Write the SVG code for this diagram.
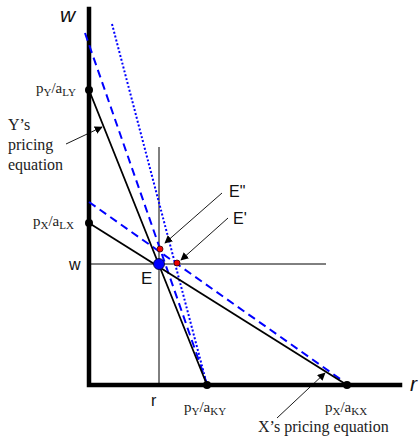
<svg xmlns="http://www.w3.org/2000/svg" width="419" height="442" viewBox="0 0 419 442">
<defs>
<style>
.ser{font-family:"Liberation Serif","Times New Roman",serif;font-size:15px;fill:#222}
.big{font-size:16px}
.sans{font-family:"Liberation Sans",Arial,sans-serif;fill:#111}
.sub{font-size:11px}
.axis{stroke:#000;stroke-width:4.5;fill:none;stroke-linecap:square}
.thin{stroke:#000;stroke-width:1;fill:none}
.solid{stroke:#000;stroke-width:1.8;fill:none}
.dash{stroke:#0000ff;stroke-width:2;stroke-dasharray:8,5;fill:none}
.dot{stroke:#0000ff;stroke-width:2;stroke-dasharray:2,2;fill:none}
.ptr{stroke:#000;stroke-width:0.9;fill:none;marker-end:url(#ah)}
</style>
<marker id="ah" viewBox="0 0 10 10" refX="9" refY="5" markerWidth="8" markerHeight="8" markerUnits="userSpaceOnUse" orient="auto">
<path d="M0,0 L10,5 L0,10 z" fill="#000"/>
</marker>
</defs>
<g id="axes">
<path class="axis" d="M89,9 V385 H400"/>
<text class="sans" x="60" y="22" font-size="21" font-style="italic">w</text>
<text class="sans" x="410" y="391" font-size="21" font-style="italic">r</text>
</g>
<g id="connectors">
<line class="thin" x1="159" y1="147" x2="159" y2="385"/>
<line class="thin" x1="89" y1="264" x2="326" y2="264"/>
<line class="dot" x1="112" y1="24" x2="207" y2="385"/>
<line class="dash" x1="85" y1="33" x2="207" y2="384"/>
<line class="dash" x1="89" y1="202" x2="343" y2="381"/>
<line class="solid" x1="89" y1="90" x2="207" y2="385"/>
<line class="solid" x1="89" y1="223" x2="347" y2="385"/>
<line class="ptr" x1="66" y1="144" x2="102" y2="127"/>
<line class="ptr" x1="222" y1="193" x2="165" y2="243"/>
<line class="ptr" x1="228" y1="218" x2="181" y2="260"/>
<line class="ptr" x1="277" y1="418" x2="325" y2="373"/>
</g>
<g id="pYaLY">
<circle cx="89" cy="90" r="4" fill="#000"/>
<text class="ser" x="36" y="93">p<tspan class="sub" dy="3">Y</tspan><tspan dy="-3">/a</tspan><tspan class="sub" dy="3">LY</tspan></text>
</g>
<g id="pXaLX">
<circle cx="89" cy="223" r="4" fill="#000"/>
<text class="ser" x="33" y="226">p<tspan class="sub" dy="3">X</tspan><tspan dy="-3">/a</tspan><tspan class="sub" dy="3">LX</tspan></text>
</g>
<g id="pYaKY">
<circle cx="207" cy="385" r="4" fill="#000"/>
<text class="ser" x="184" y="412">p<tspan class="sub" dy="3">Y</tspan><tspan dy="-3">/a</tspan><tspan class="sub" dy="3">KY</tspan></text>
</g>
<g id="pXaKX">
<circle cx="347" cy="385" r="4" fill="#000"/>
<text class="ser" x="325" y="412">p<tspan class="sub" dy="3">X</tspan><tspan dy="-3">/a</tspan><tspan class="sub" dy="3">KX</tspan></text>
</g>
<g id="E">
<circle cx="159" cy="264" r="5.5" fill="#0000ff" stroke="#000033" stroke-width="0.8"/>
<text class="sans" x="141" y="284" font-size="17">E</text>
</g>
<g id="E2">
<circle cx="160" cy="249" r="3" fill="#ee0000" stroke="#330000" stroke-width="0.8"/>
<text class="sans" x="229" y="197" font-size="16">E"</text>
</g>
<g id="E1">
<circle cx="177" cy="263" r="3" fill="#ee0000" stroke="#330000" stroke-width="0.8"/>
<text class="sans" x="233" y="224" font-size="16">E'</text>
</g>
<g id="labels">
<text class="sans" x="69" y="270" font-size="16">w</text>
<text class="sans" x="151" y="406" font-size="16">r</text>
<text class="ser big" x="8" y="130">Y’s</text>
<text class="ser big" x="8" y="150">pricing</text>
<text class="ser big" x="8" y="170">equation</text>
<text class="ser big" x="258" y="432">X’s pricing equation</text>
</g>
</svg>
